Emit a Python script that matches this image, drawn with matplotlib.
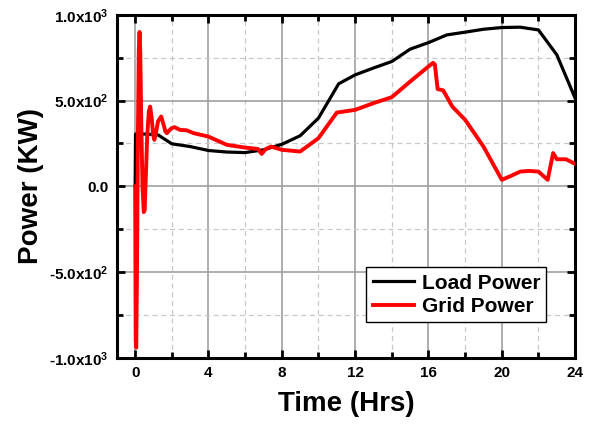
import numpy as np
import matplotlib.pyplot as plt
from matplotlib.ticker import MultipleLocator, FixedLocator

# Load power (black)
load_t = [0.0, 0.02, 0.6, 1.25, 2.0, 3.0, 4.0, 5.0, 6.0, 7.0, 8.0, 8.5, 9.0, 10.0,
          11.1, 12.0, 13.0, 14.0, 15.0, 16.0, 17.0, 18.0, 19.0, 20.0, 21.0, 22.0, 23.0, 24.0]
load_p = [0, 305, 305, 300, 248, 232, 209, 200, 197, 213, 245, 270, 295, 398,
          598, 650, 690, 728, 800, 838, 883, 899, 916, 926, 928, 912, 767, 514]

# Grid power (red)
grid_t = [0.0, 0.03, 0.06, 0.10, 0.15, 0.20, 0.24, 0.28, 0.33, 0.40, 0.47, 0.52, 0.58,
          0.66, 0.75, 0.82, 0.90, 0.98, 1.05, 1.13, 1.25, 1.42, 1.55, 1.65, 1.73, 1.85,
          2.0, 2.15, 2.45, 2.8, 3.2, 4.0, 5.0, 6.0, 6.7,
          6.9, 7.1, 7.4, 8.0, 9.0, 10.0, 11.0, 12.0, 13.0, 14.0, 15.0, 16.0, 16.25, 16.35,
          16.5, 16.8, 17.3, 18.0, 19.0, 20.0, 20.5, 21.0, 21.5, 22.0, 22.5, 22.8, 23.0, 23.5, 24.0]
grid_p = [0, -900, -940, -500, 300, 800, 900, 780, 400, 0, -150, -140, 50,
          300, 440, 465, 400, 300, 271, 310, 380, 407, 360, 320, 310, 325,
          340, 345, 329, 327, 310, 290, 242, 226, 218,
          189, 215, 232, 213, 203, 281, 430, 446, 485, 520, 611, 699, 720, 710,
          567, 560, 465, 388, 232, 38, 61, 86, 90, 86, 38, 194, 158, 158, 131]

yticks = [-1000, -500, 0, 500, 1000]
ytick_labels = [r'-1.0x10$^3$', r'-5.0x10$^2$', '0.0', r'5.0x10$^2$', r'1.0x10$^3$']

plt.rcParams.update({'font.family': 'Liberation Sans', 'font.weight': 'bold',
                     'mathtext.fontset': 'custom', 'mathtext.rm': 'Liberation Sans:bold',
                     'mathtext.default': 'rm'})

fig = plt.figure(figsize=(5.96, 4.24), dpi=100)
ax = fig.add_axes([0.196, 0.156, 0.769, 0.809])

ax.plot(load_t, load_p, color='black', lw=2.3, label='Load Power', zorder=3,
        solid_joinstyle='round')
ax.plot(grid_t, grid_p, color='#ff0000', lw=2.8, label='Grid Power', zorder=4,
        solid_joinstyle='round')

ax.set_xlim(-1, 24)
ax.set_ylim(-1000, 1000)
ax.xaxis.set_major_locator(FixedLocator([0, 4, 8, 12, 16, 20, 24]))
ax.xaxis.set_minor_locator(MultipleLocator(2))
ax.set_yticks(yticks)
ax.set_yticklabels(ytick_labels)
ax.yaxis.set_minor_locator(MultipleLocator(250))

ax.grid(which='major', color='#a0a0a0', lw=1.2, ls='-', zorder=0)
ax.grid(which='minor', color='#c8c8c8', lw=0.9, ls=(0, (4, 3)), zorder=0)
ax.set_axisbelow(True)

ax.tick_params(which='both', direction='in', top=True, right=True, labelsize=11, width=2)
ax.tick_params(which='major', length=6, pad=6)
ax.tick_params(which='minor', length=4)
for s in ax.spines.values():
    s.set_linewidth(2.2)

ax.set_xlabel('Time (Hrs)', fontsize=20, fontweight='bold', labelpad=8)
ax.set_ylabel('Power (KW)', fontsize=20, fontweight='bold', labelpad=4)

leg = ax.legend(loc='lower right', bbox_to_anchor=(0.96, 0.074), fontsize=15,
                frameon=True, fancybox=False, framealpha=1, edgecolor='black',
                handlelength=2.0, handletextpad=0.35, borderpad=0.3, labelspacing=0.2)
leg.get_frame().set_linewidth(1.0)

fig.savefig('out.png', dpi=100)
